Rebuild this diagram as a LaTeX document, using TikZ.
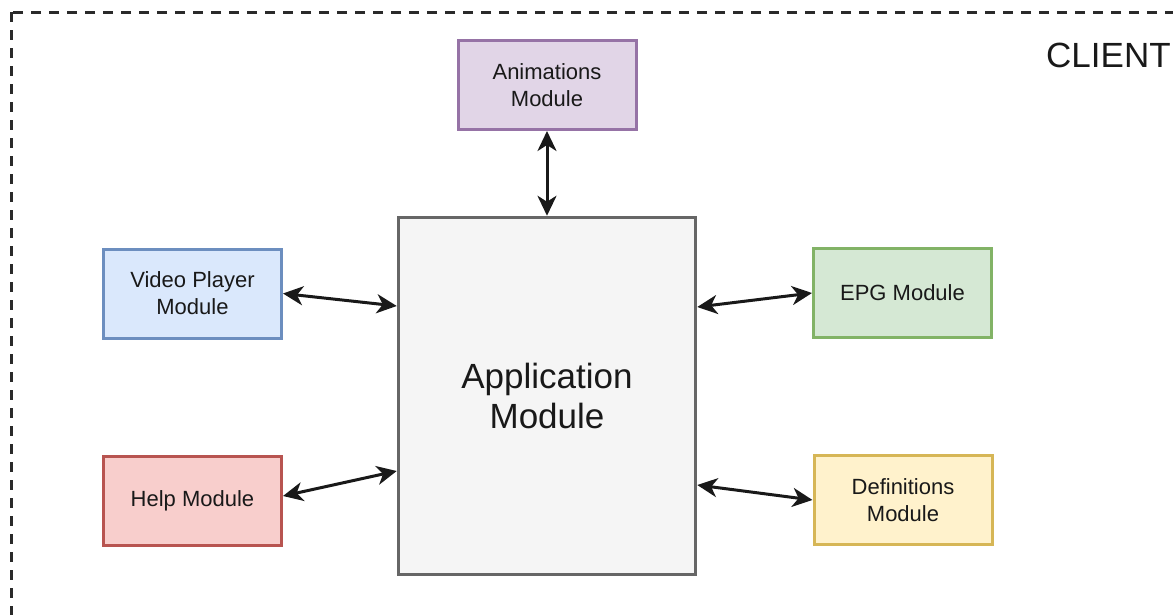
\documentclass[tikz,border=0pt]{standalone}
\usepackage{fontspec}
\setmainfont{Liberation Sans}
\usetikzlibrary{arrows.meta}
\definecolor{purpleF}{HTML}{E1D5E7}\definecolor{purpleS}{HTML}{9673A6}
\definecolor{blueF}{HTML}{DAE8FC}\definecolor{blueS}{HTML}{6C8EBF}
\definecolor{redF}{HTML}{F8CECC}\definecolor{redS}{HTML}{B85450}
\definecolor{greenF}{HTML}{D5E8D4}\definecolor{greenS}{HTML}{82B366}
\definecolor{yellowF}{HTML}{FFF2CC}\definecolor{yellowS}{HTML}{D6B656}
\definecolor{grayF}{HTML}{F5F5F5}\definecolor{grayS}{HTML}{666666}
\definecolor{frameC}{HTML}{2A2A2A}
\tikzset{
  module/.style={draw, line width=3pt, minimum width=178pt, minimum height=89pt,
    align=center, font=\fontsize{22}{27}\selectfont, text=black!90, inner sep=0pt},
  mainbox/.style={draw=grayS, fill=grayF, line width=3.5pt, minimum width=297pt,
    minimum height=357pt, align=center, font=\fontsize{35}{40}\selectfont, text=black!90},
  biarrow/.style={line width=3pt, black!90,
    {Stealth[length=20pt,width=19pt,inset=6pt]}-{Stealth[length=20pt,width=19pt,inset=6pt]}},
  boundary/.style={draw=frameC, line width=3pt, dash pattern=on 10pt off 8pt}
}
\begin{document}
\begin{tikzpicture}[x=1pt,y=-1pt]
  \clip (0,0) rectangle (1173,614);
  % client boundary, running past the right and bottom edges
  \draw[boundary] (11,12) rectangle (1300,700);
  \node[anchor=base west, inner sep=0pt, font=\fontsize{35}{40}\selectfont, text=black!90]
    (client) at (1046,67) {CLIENT};

  % modules
  \node[mainbox] (app) at (547,396) {Application\\Module};
  \node[module, draw=purpleS, fill=purpleF] (anim) at (547,85) {Animations\\Module};
  \node[module, draw=blueS, fill=blueF] (video) at (192.5,293.5) {Video Player\\Module};
  \node[module, draw=redS, fill=redF] (help) at (192.5,501) {Help Module};
  \node[module, draw=greenS, fill=greenF] (epg) at (902.5,293) {EPG Module};
  \node[module, draw=yellowS, fill=yellowF] (defs) at (903,500) {Definitions\\Module};

  % connections to the application module
  \draw[biarrow] (anim.south) -- (app.north);
  \draw[biarrow] (video.east) -- ([yshift=90pt]app.west);
  \draw[biarrow] ([yshift=5pt]help.east) -- ([yshift=-75pt]app.west);
  \draw[biarrow] ([yshift=89pt]app.east) -- (epg.west);
  \draw[biarrow] ([yshift=-89pt]app.east) -- (defs.west);
\end{tikzpicture}
\end{document}
